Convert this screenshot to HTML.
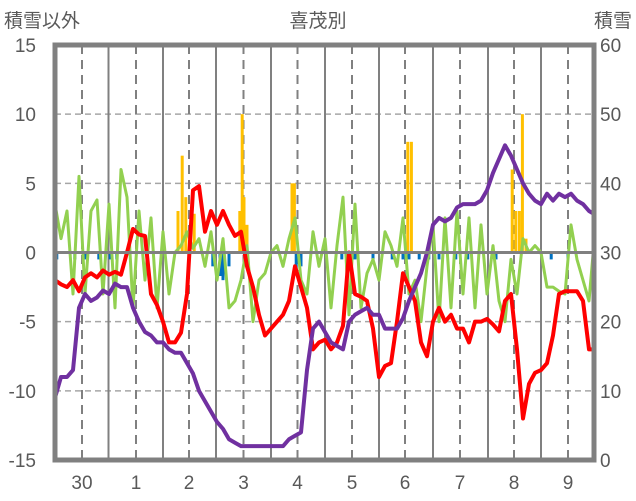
<!DOCTYPE html>
<html><head><meta charset="utf-8"><style>
body{margin:0;background:#fff;}
svg{display:block;font-family:"Liberation Sans","Noto Sans CJK JP",sans-serif;}
</style></head><body>
<svg id="chart" width="636" height="501" viewBox="0 0 636 501">
<text x="4" y="27" font-size="19" fill="#595959">積雪以外</text>
<text x="318" y="27" font-size="19" fill="#595959" text-anchor="middle">喜茂別</text>
<text x="632" y="27" font-size="19" fill="#595959" text-anchor="end">積雪</text>
<g id="grid"></g>
<g id="bars"></g>
<g id="lines"></g>
<g id="axes"></g>
</svg>
<script>
const monthLabels=["30","1","2","3","4","5","6","7","8","9"];
const leftTicks=[15,10,5,0,-5,-10,-15];
const rightTicks=[60,50,40,30,20,10,0];
const redValues=[-2,-2.3,-2.5,-2,-2.8,-1.8,-1.5,-1.8,-1.3,-1.6,-1.4,-1.6,0,1.7,1.3,1.2,-3,-3.8,-5,-6.5,-6.5,-5.8,-3,4.5,4.8,1.5,3,2,3,2,1.2,1.5,-1,-2.5,-4.5,-6,-5.5,-5,-4.5,-3.5,-1,-2.5,-4,-7,-6.5,-6.3,-7,-6.5,-5.3,0,-3,-3.2,-3.5,-5.5,-9,-8.2,-8,-5,-1.5,-2.5,-3.5,-6.5,-7.5,-5,-4,-5,-4.5,-5.5,-5.5,-6.5,-5,-5,-4.8,-5.2,-5.7,-3.5,-3,-7,-12,-9.5,-8.7,-8.5,-8,-6,-3,-2.8,-2.8,-2.8,-3.5,-7,-7];
const purpleValues=[9,12,12,13,22,24,23,23.5,24.5,24,25.5,25,25,22,20,18.5,18,17,17,16,15.5,15.5,14,12.5,10,8.5,7,5.5,4.5,3,2.5,2,2,2,2,2,2,2,2,3,3.5,4,13,19,20,18.5,17,16.5,16,20,21,21.5,22,21,21,19,19,19,20.5,23,25,27,30,34,35,34.5,35,36.5,37,37,37,37.5,39,41.5,43.5,45.5,44,42,40,38.5,37.5,37,38.5,37.5,38.5,38,38.5,37.5,37,36,35.5];
const greenValues=[3.5,1,3,-3,5.5,-3,3,3.8,-3,3.5,-4,6,4,-4,3,-2,2.5,-4,1.5,-3,0,0.5,1.5,0.3,1,-1,1.5,-2,1,-4,-3.5,-2,0.5,-5,-2,-1.5,0,0.5,-1,1,2.5,-2,-3,1.5,-1,1,-4,0.5,4,-4.5,3.5,-4,-1.5,-0.5,-2,1.5,0.5,-1,2.5,-3,-2,-5,-1,2,-5,2.5,-4,3,-3,2.5,-4,2,-3,0.5,-3.5,-5,-0.5,-3,1,0,0.5,0,-2.5,-2.5,-2.8,-3,2,-0.5,-2,-3.5,1.5];
const yellowDays=[20.5,21.2,21.8,23.2,30.8,31.2,31.5,32,39.5,39.9,58.8,59.4,76.2,76.8,77.4,77.9,78.5];
const yellowValues=[3,7,4,2.8,3,10,4,2,5,5,8,8,6,3,3,10,1];
const blueDays=[0.3,3.3,5,7.3,9.2,10.3,26.3,27.5,28,29,40.2,41,47.8,50,53,56.2,58,59,60.7,62.3,64,66.8,68.8,73.5,82.7,85.5];
const blueValues=[-0.5,-0.5,-0.5,-0.5,-0.5,-0.5,-1,-1.7,-2,-1,-1.5,-1,-0.5,-0.5,-0.5,-0.5,-0.5,-0.5,-0.5,-0.5,-0.5,-0.5,-0.5,-0.5,-0.5,-0.5];

const X0=55,X1=594,Y0=45,Y1=460,NS="http://www.w3.org/2000/svg";
const xs=d=>X0+d*6;
const yl=v=>Y1-(v+15)*(Y1-Y0)/30;
const yr=v=>Y1-v*(Y1-Y0)/60;
function mk(tag,attrs,parent){const e=document.createElementNS(NS,tag);for(const k in attrs)e.setAttribute(k,attrs[k]);parent.appendChild(e);return e;}
const grid=document.getElementById('grid'),bars=document.getElementById('bars'),lines=document.getElementById('lines'),axes=document.getElementById('axes');
leftTicks.forEach(v=>{if(v===15||v===-15)return;const g=mk('line',{x1:X0,x2:X1,y1:yl(v),y2:yl(v),stroke:v===0?'#808080':'#a6a6a6','stroke-width':v===0?3:1.5,'stroke-dasharray':v===0?'':'6,4'},v===0?axes:grid);

});
const solidX=[108.5,163,216,271,325,379,433,488,541];
const labelX=[82,136,189,243.5,297.5,352,405,460,514,568];
solidX.forEach(x=>{const l=mk('line',{x1:x,x2:x,y1:Y0,y2:Y1,stroke:'#808080','stroke-width':2},grid);

});
labelX.forEach((x,i)=>{const l=mk('line',{x1:x,x2:x,y1:Y0,y2:Y1,stroke:'#808080','stroke-width':2,'stroke-dasharray':'9,6'},grid);


const t=mk('text',{x:x,y:489,'font-size':19,fill:'#595959','text-anchor':'middle'},axes);t.textContent=monthLabels[i];

});
yellowDays.forEach((d,i)=>{const v=yellowValues[i];const r=mk('rect',{x:xs(d)-1.5,y:yl(v),width:3,height:yl(0)-yl(v),fill:'#FFC000'},bars);

});
blueDays.forEach((d,i)=>{const v=blueValues[i];const r=mk('rect',{x:xs(d)-1.5,y:yl(0),width:3,height:yl(v)-yl(0),fill:'#0070C0'},bars);

});
function series(vals,yf,color,w,name){const p=mk('polyline',{points:vals.map((v,i)=>xs(i)+','+yf(v)).join(' '),fill:'none',stroke:color,'stroke-width':w,'stroke-linejoin':'round'},lines);

}
series(greenValues,yl,'#92D050',3,'green-series');
series(redValues,yl,'#FF0000',4,'red-series');
series(purpleValues,yr,'#7030A0',4,'snow-depth-series');
const f=mk('rect',{x:X0,y:Y0,width:X1-X0,height:Y1-Y0,fill:'none',stroke:'#808080','stroke-width':5},axes);


leftTicks.forEach(v=>{const t=mk('text',{x:36,y:yl(v)+7,'font-size':19,fill:'#595959','text-anchor':'end'},axes);t.textContent=v;

});
rightTicks.forEach(v=>{const t=mk('text',{x:600,y:yr(v)+7,'font-size':19,fill:'#595959'},axes);t.textContent=v;

});
</script>
</body></html>
